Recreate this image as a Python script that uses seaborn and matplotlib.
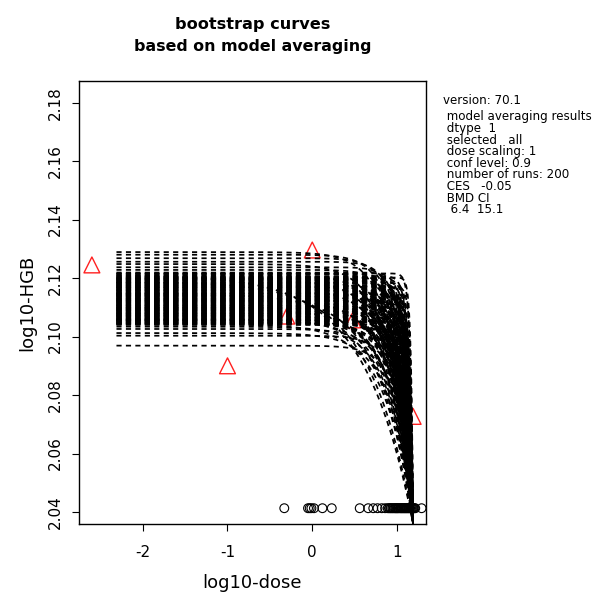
import numpy as np
import pandas as pd
import matplotlib
matplotlib.use("Agg")
import matplotlib.pyplot as plt
import seaborn as sns

# ---------------- data ----------------
title_lines = ["bootstrap curves", "based on model averaging"]
x_label = "log10-dose"
y_label = "log10-HGB"
info_lines = ["version: 70.1", " model averaging results", " dtype  1", " selected   all",
              " dose scaling: 1", " conf level: 0.9", " number of runs: 200", " CES   -0.05",
              " BMD CI", "  6.4  15.1"]

x_ticks = [-2, -1, 0, 1]
y_ticks = [2.04, 2.06, 2.08, 2.10, 2.12, 2.14, 2.16, 2.18]

# observed (mean) responses, red triangles
obs_logdose = [-2.60, -1.00, 0.00, -0.30, 0.48, 1.19]
obs_loghgb = [2.1245, 2.0900, 2.1296, 2.1070, 2.1057, 2.0727]

# bootstrap BMD estimates (open circles along the bottom)
bmd_logdose = [-0.33, -0.05, -0.03, -0.01, 0.02, 0.12, 0.23, 0.56, 0.66, 0.72, 0.77, 0.82,
               0.86, 0.89, 0.905, 0.92, 0.93, 0.945, 0.955, 0.97, 0.98, 0.99, 1.0, 1.01,
               1.02, 1.035, 1.045, 1.055, 1.065, 1.075, 1.085, 1.095, 1.105, 1.115, 1.125,
               1.135, 1.145, 1.155, 1.165, 1.175, 1.185, 1.195, 1.205, 1.215, 1.29]
bmd_row = 2.0413

# bootstrap curves: level at low dose and steepness of each run
curve_start = -2.31
curve_end = 1.19
curve_floor = 2.036
curve_level = [2.1289, 2.1280, 2.1268, 2.1256, 2.1248, 2.1237, 2.1228,
               2.1219, 2.1216, 2.1214, 2.1211, 2.1207, 2.1205, 2.1202, 2.1198, 2.1196, 2.1193,
               2.1190, 2.1187, 2.1184, 2.1182, 2.1178, 2.1176, 2.1173, 2.1169, 2.1167, 2.1164,
               2.1161, 2.1158, 2.1156, 2.1152, 2.1150, 2.1147, 2.1144, 2.1141, 2.1138, 2.1135,
               2.1133, 2.1129, 2.1127, 2.1124, 2.1121, 2.1118, 2.1115, 2.1113, 2.1109, 2.1107,
               2.1104, 2.1101, 2.1098, 2.1096, 2.1092, 2.1090, 2.1087, 2.1084, 2.1081, 2.1078,
               2.1076, 2.1072, 2.1070, 2.1067, 2.1064, 2.1061, 2.1058, 2.1056, 2.1052, 2.1050,
               2.1047, 2.1045, 2.1042, 2.1040,
               2.1201, 2.1195, 2.1189, 2.1183, 2.1177, 2.1171, 2.1166, 2.1160, 2.1154, 2.1148,
               2.1143, 2.1137, 2.1131, 2.1126, 2.1120, 2.1114, 2.1108, 2.1103, 2.1097, 2.1091,
               2.1086, 2.1080, 2.1074, 2.1069, 2.1063, 2.1057, 2.1052, 2.1046, 2.1199, 2.1171,
               2.1146, 2.1122, 2.1100, 2.1079, 2.1060, 2.1043, 2.1185, 2.1139, 2.1094, 2.1055,
               2.1210, 2.1203, 2.1192, 2.1186, 2.1175, 2.1168, 2.1157, 2.1149, 2.1140, 2.1132,
               2.1123, 2.1116, 2.1106, 2.1099, 2.1088, 2.1082, 2.1071, 2.1065, 2.1054, 2.1048,
               2.1215, 2.1180, 2.1145, 2.1110, 2.1075, 2.1197, 2.1162, 2.1128, 2.1093, 2.1058,
               2.1034, 2.1026, 2.1012, 2.1003, 2.0969]
curve_k = [1.9, 2.4, 2.8, 3.3, 1.7, 4.0, 3.0,
           6.0, 14.0, 4.5, 0.75, 9.0, 5.2, 18.0, 3.6, 7.5, 5.5,
           4.2, 0.85, 12.0, 5.8, 3.2, 7.0, 6.8, 16.0, 4.0, 8.2,
           2.8, 6.5, 5.0, 7.0, 3.5, 10.0, 1.1, 4.4, 4.6, 6.2,
           3.3, 2.5, 13.0, 3.9, 5.5, 8.8, 2.2, 4.9, 4.8, 1.8,
           7.8, 3.0, 11.0, 2.0, 6.5, 1.5, 5.3, 3.4, 5.1, 2.6,
           9.2, 1.7, 4.3, 2.3, 3.8, 1.4, 6.0, 2.9, 1.6, 4.7,
           2.1, 4.1, 1.3, 3.7,
           5.0, 3.8, 6.6, 4.4, 2.9, 5.9, 3.5, 7.2, 4.1, 2.7,
           5.6, 3.1, 6.3, 2.4, 4.7, 3.6, 2.2, 5.2, 2.9, 1.9,
           4.0, 2.6, 3.3, 2.1, 3.9, 2.4, 1.8, 2.8, 8.5, 9.5,
           7.7, 6.9, 5.4, 4.6, 3.2, 2.3, 10.5, 8.0, 6.1, 4.5,
           1.9, 2.3, 1.7, 2.6, 2.0, 2.8, 1.8, 2.4, 2.1, 2.9,
           1.6, 2.5, 2.2, 1.9, 2.7, 2.0, 2.4, 1.7, 2.6, 2.2,
           3.0, 2.8, 3.2, 2.9, 3.1, 2.0, 2.3, 2.6, 2.5, 1.8,
           1.6, 2.0, 1.6, 2.6, 2.5]

# ---------------- build tidy tables ----------------
x_grid = np.linspace(curve_start, curve_end, 500)
rows = []
for run, (lev, k) in enumerate(zip(curve_level, curve_k)):
    ratio = 10.0 ** (x_grid - curve_end)
    y = lev + (curve_floor - lev) * ratio ** k
    rows.append(pd.DataFrame({"x": x_grid, "y": y, "run": run}))
curves = pd.concat(rows, ignore_index=True)

obs = pd.DataFrame({"x": obs_logdose, "y": obs_loghgb})
bmd = pd.DataFrame({"x": bmd_logdose, "y": [bmd_row] * len(bmd_logdose)})

# ---------------- plot ----------------
sns.set_style("ticks")
plt.rcParams["font.family"] = ["DejaVu Sans"]
plt.rcParams["axes.unicode_minus"] = False
plt.rcParams["lines.scale_dashes"] = False
plt.rcParams["text.color"] = "black"
plt.rcParams["axes.labelcolor"] = "black"

W, H = 595, 594
fig = plt.figure(figsize=(W / 100, H / 100), dpi=100)
ax = fig.add_axes([79 / W, 1 - 524 / H, 347 / W, 443 / H])

sns.scatterplot(data=obs, x="x", y="y", ax=ax, marker="^", s=130,
                facecolors="none", edgecolor="#ff2020", linewidth=1.0, zorder=1)
sns.lineplot(data=curves, x="x", y="y", units="run", estimator=None, ax=ax,
             color="black", linewidth=1.25, linestyle=(0, (3.7, 3.1)), sort=False,
             zorder=2)
sns.scatterplot(data=bmd, x="x", y="y", ax=ax, marker="o", s=40,
                facecolors="none", edgecolor="black", linewidth=0.8, zorder=3)

ax.set_xlim(-2.752, 1.342)
ax.set_ylim(2.0359, 2.1874)
ax.set_xticks(x_ticks)
ax.set_xticklabels([str(v) for v in x_ticks])
ax.set_yticks(y_ticks)
ax.set_yticklabels([f"{v:.2f}" for v in y_ticks], rotation=90, va="center")
ax.tick_params(axis="both", direction="out", length=5.2, width=0.8, color="black",
               labelsize=11, labelcolor="black")
ax.tick_params(axis="x", pad=10)
ax.tick_params(axis="y", pad=6.7)
for sp in ax.spines.values():
    sp.set_color("black")
    sp.set_linewidth(1.0)

ax.set_xlabel(x_label, fontsize=13)
ax.set_ylabel(y_label, fontsize=13)
ax.xaxis.set_label_coords((252.5 - 79) / 347, (524 - 583) / 443)
ax.yaxis.set_label_coords((27 - 79) / 347, 0.5)
ax.xaxis.label.set_va("center")
ax.yaxis.label.set_va("center")

# title
fig.text(252.5 / W, 1 - 29.5 / H, title_lines[0], ha="center", va="baseline",
         fontsize=11.6, fontweight="bold", color="black")
fig.text(252.5 / W, 1 - 50.7 / H, title_lines[1], ha="center", va="baseline",
         fontsize=11.4, fontweight="bold", color="black")

# info text at right
for i, line in enumerate(info_lines):
    yc = 100 if i == 0 else 116.7 + (i - 1) * 11.65
    fig.text(442.7 / W, 1 - yc / H, line, ha="left", va="center", fontsize=8.6,
             color="black")

fig.savefig("out.png", dpi=100)
